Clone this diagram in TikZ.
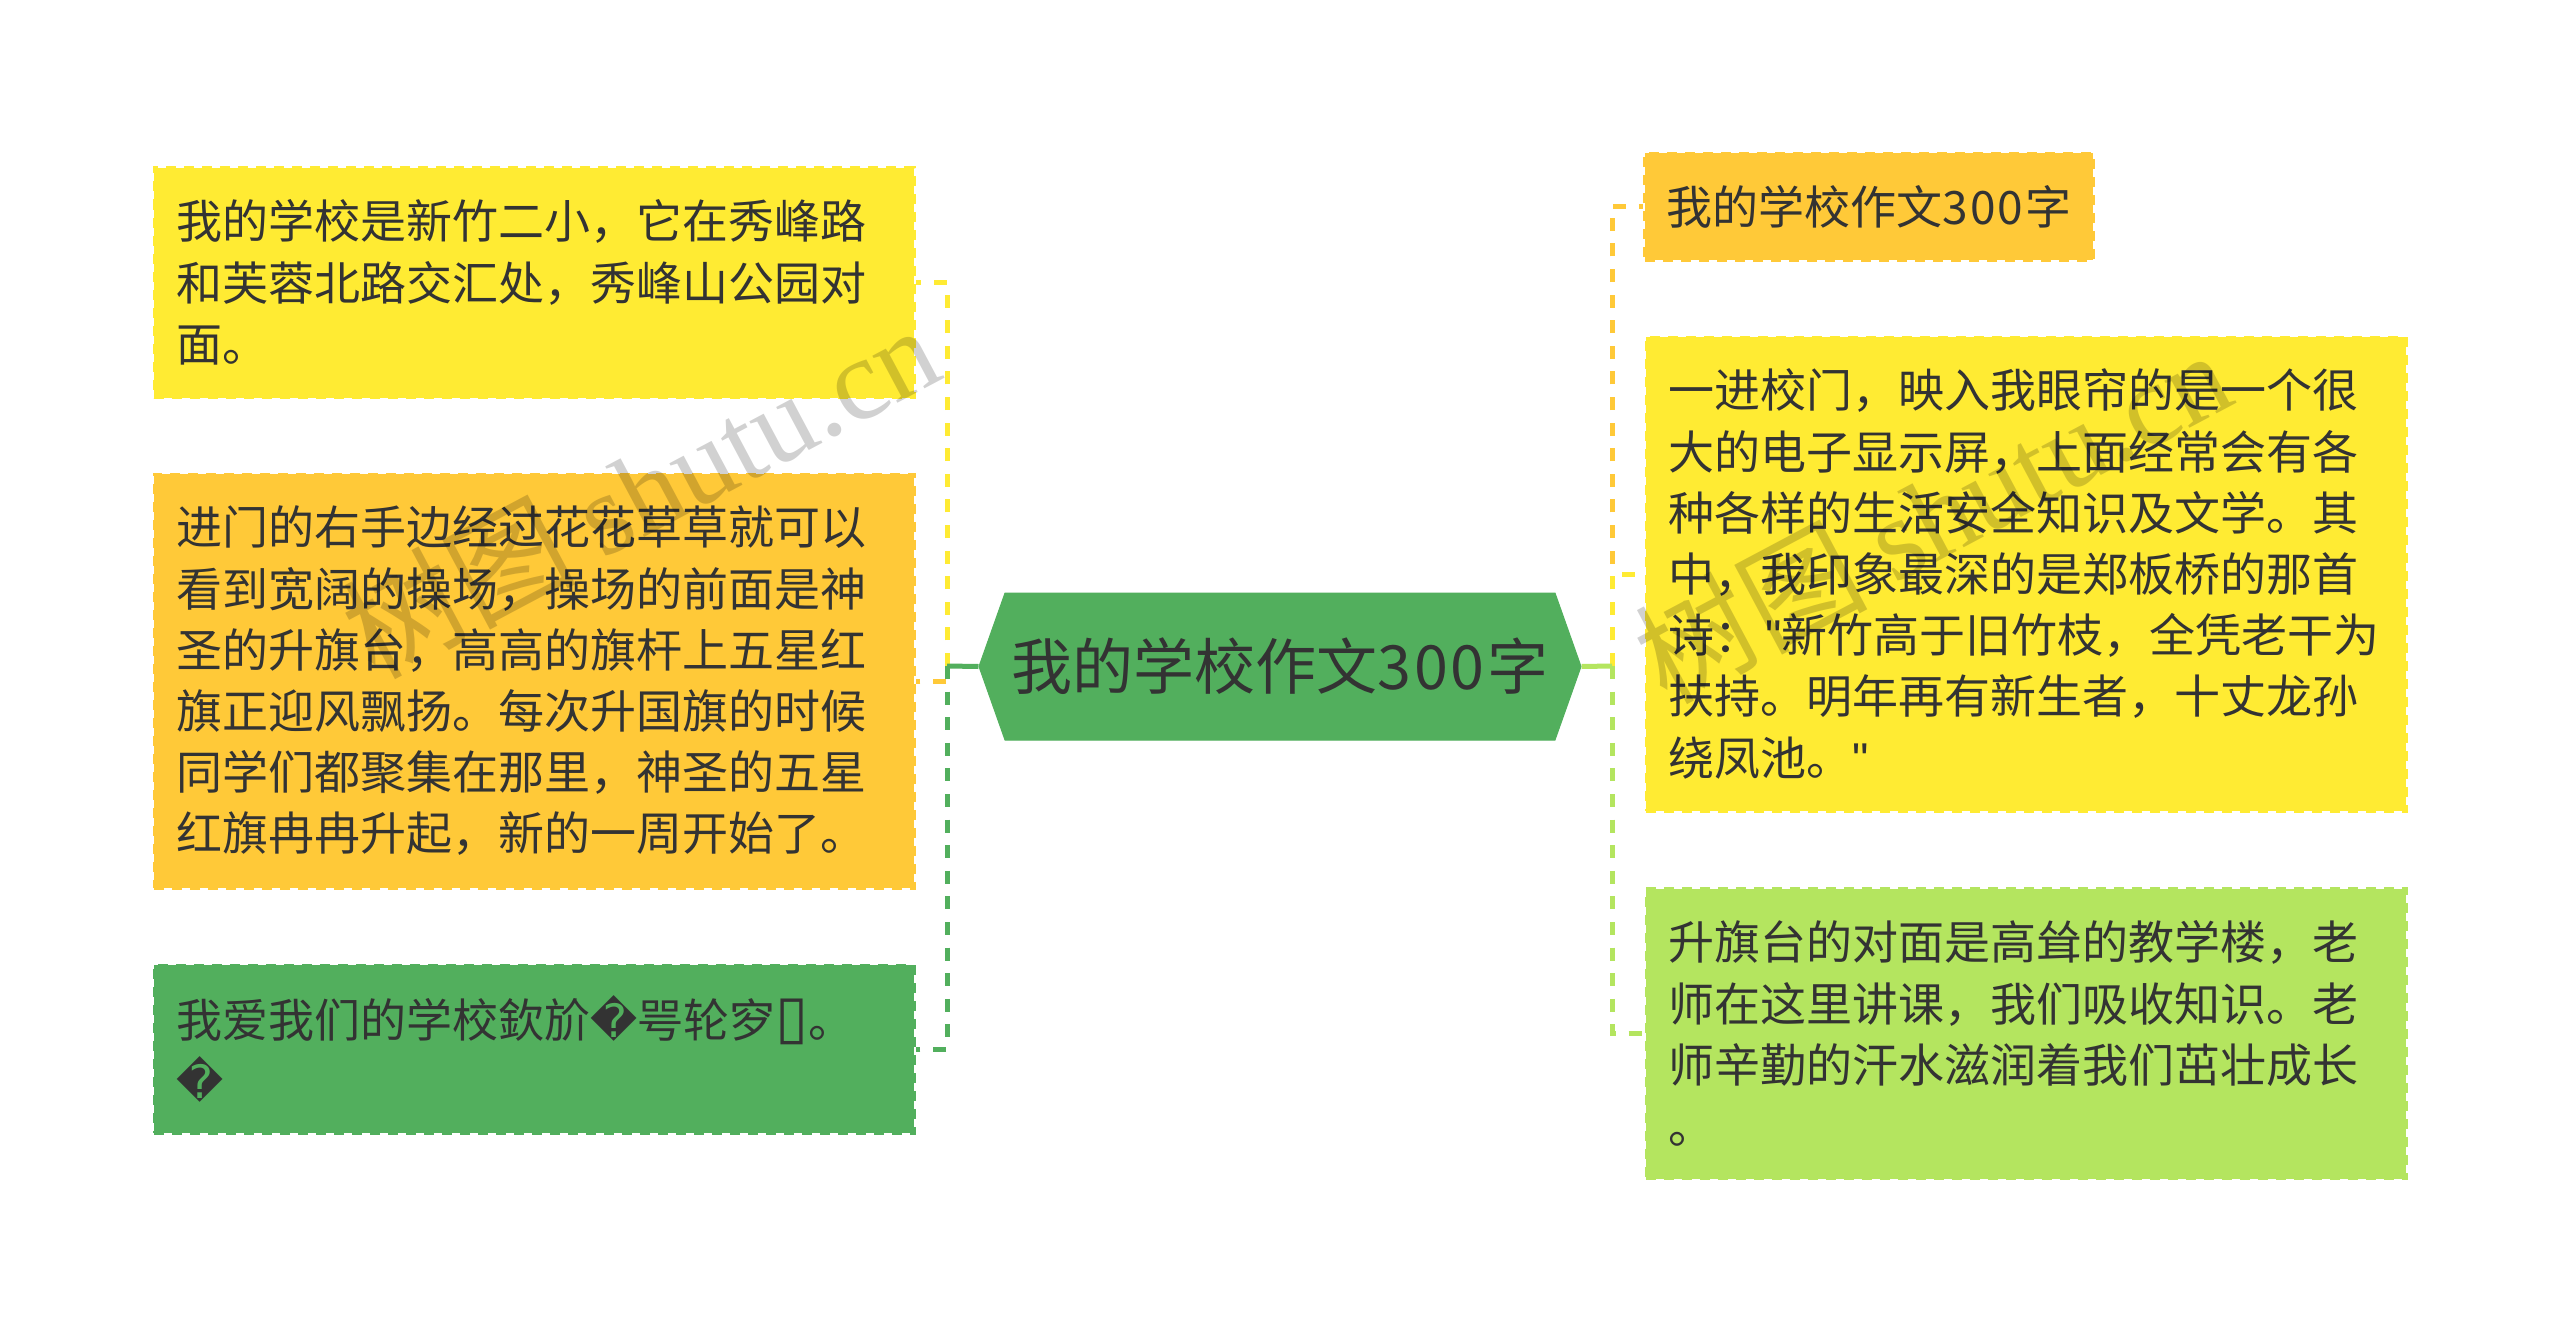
\documentclass[tikz,border=0pt]{standalone}
\usepackage{fontspec}
\usetikzlibrary{shapes.symbols}
\setmainfont{Noto Sans CJK SC}
\newfontfamily\symfam{DejaVu Sans}
\newfontfamily\wmfam{Liberation Serif}
\newfontfamily\qfam{Liberation Sans}
\definecolor{cyel}{HTML}{FFEB33}
\definecolor{cora}{HTML}{FFC938}
\definecolor{cgrn}{HTML}{52AF5D}
\definecolor{clim}{HTML}{B4E55F}
\definecolor{ctxt}{HTML}{333333}
\tikzset{
  leaf/.style={rectangle,draw=#1,fill=#1,line width=1.5pt,dash pattern=on 5pt off 4pt,
    text=ctxt,align=left,inner xsep=11pt,inner ysep=0pt,anchor=center,
    font=\fontsize{23}{30.6}\selectfont},
  wide/.style={minimum width=380pt,text width=358pt},
  conn/.style={line width=2.5pt,dash pattern=on 6.5pt off 6.3pt},
  rootline/.style={line width=2.5pt},
  mark text/.style={rotate=28,text=black,text opacity=.18,font=\fontsize{58}{62}\selectfont}
}
\newcommand{\repl}{{\symfam\char"FFFD}}
\newcommand{\tofu}{{\symfam\fontsize{30}{30}\selectfont\char"25AF}}
\newcommand{\qt}{{\qfam"}}
\newcommand{\sanbai}[1]{3\kern#10\kern#10\kern#1}
\begin{document}
\begin{tikzpicture}[x=0.5pt,y=-0.5pt]
\useasboundingbox (0,0) rectangle (2560,1333);
\fill[white] (0,0) rectangle (2560,1333);

\node[signal,signal to=west and east,signal pointer angle=141,draw=cgrn,fill=cgrn,line width=.5pt,
  minimum width=301pt,minimum height=73.5pt,inner sep=0pt,text=ctxt,
  font=\fontsize{30.5}{36}\selectfont] (root) at (1280,666.5) {我的学校作文\sanbai{1.3pt}字};

\coordinate (spineL) at (947,666);
\coordinate (spineR) at (1612,666);

\node[leaf=cyel,wide,minimum height=115pt] (l1) at (534,282.5) {我的学校是新竹二小，它在秀峰路\\和芙蓉北路交汇处，秀峰山公园对\\面。};
\node[leaf=cora,wide,minimum height=207pt] (l2) at (534,681) {进门的右手边经过花花草草就可以\\看到宽阔的操场，操场的前面是神\\圣的升旗台，高高的旗杆上五星红\\旗正迎风飘扬。每次升国旗的时候\\同学们都聚集在那里，神圣的五星\\红旗冉冉升起，新的一周开始了。};
\node[leaf=cgrn,wide,minimum height=84pt] (l3) at (534,1049) {我爱我们的学校欽斺\repl 咢轮穸\tofu 。\\\repl};

\node[leaf=cora,minimum width=222pt,minimum height=53.5pt] (r1) at (1869,206.5) {我的学校作文\sanbai{1pt}字};
\node[leaf=cyel,wide,minimum height=237pt] (r2) at (2026,574) {一进校门，映入我眼帘的是一个很\\大的电子显示屏，上面经常会有各\\种各样的生活安全知识及文学。其\\中，我印象最深的是郑板桥的那首\\诗：\kern2.5pt\qt 新竹高于旧竹枝，全凭老干为\\扶持。明年再有新生者，十丈龙孙\\绕凤池。\qt};
\node[leaf=clim,wide,minimum height=145pt] (r3) at (2026,1033.5) {升旗台的对面是高耸的教学楼，老\\师在这里讲课，我们吸收知识。老\\师辛勤的汗水滋润着我们茁壮成长\\。};

% connectors
\draw[conn,cyel] (spineL) |- (l1.east);
\draw[conn,cora,dash phase=4.8pt] (spineL) |- (l2.east);
\draw[conn,cgrn] (spineL) |- (l3.east);
\draw[rootline,cgrn] (root.west) -- (spineL);

\draw[conn,cora] (spineR) |- (r1.west);
\draw[conn,cyel] (spineR) |- (r2.west);
\draw[conn,clim] (spineR) |- (r3.west);
\draw[rootline,clim] (root.east) -- (spineR);

% watermark
\node[mark text] (wm1) at (640,490) {树图 {\wmfam shutu.cn}};
\node[mark text] (wm2) at (1932,515) {树图 {\wmfam shutu.cn}};
\end{tikzpicture}
\end{document}
